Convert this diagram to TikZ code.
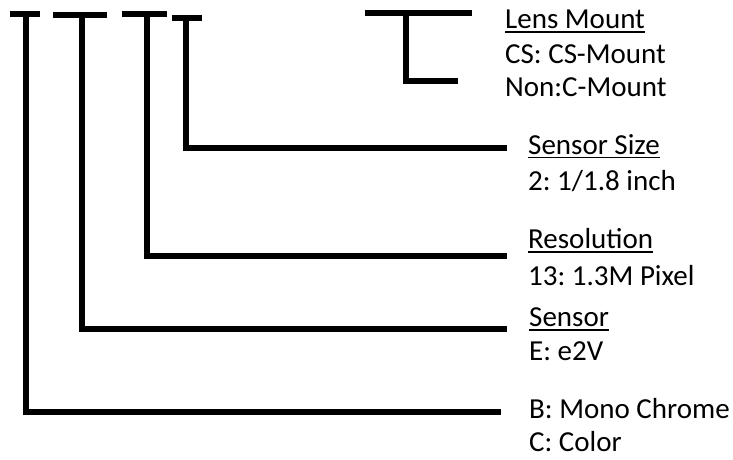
\documentclass[tikz,border=0pt]{standalone}
\usepackage{fontspec}
\setmainfont{Carlito}
\frenchspacing
\newcommand{\ulin}[1]{\setbox0\hbox{#1}\rlap{\rule[-4.3pt]{\wd0}{1.8pt}}\box0}
\begin{document}
\begin{tikzpicture}[x=1pt,y=-1pt,
  bar/.style={line width=6pt, line join=miter, line cap=butt},
  lbl/.style={anchor=base west, inner sep=0pt, font=\fontsize{29}{34}\selectfont}]
\useasboundingbox (0,0) rectangle (733,459);
% labels
\node[lbl] (lensT) at (505,28.3) {\ulin{Lens Mount}};
\node[lbl] (lens1) at (505,63.3) {CS: CS-Mount};
\node[lbl] (lens2) at (505,96.7) {Non:C-Mount};
\node[lbl] (sizeT) at (528,154) {\ulin{Sensor Size}};
\node[lbl] (size1) at (528,190.7) {2: 1/1.8 inch};
\node[lbl] (resT) at (528,248.3) {\ulin{Resolution}};
\node[lbl] (res1) at (528,285.7) {13: 1.3M Pixel};
\node[lbl] (senT) at (529,326.7) {\ulin{Sensor}};
\node[lbl] (sen1) at (529,360) {E: e2V};
\node[lbl] (col1) at (529,418.3) {B: Mono Chrome};
\node[lbl] (col2) at (529,451.7) {C: Color};
% coordinates
\coordinate (t1l) at (10,14.2);  \coordinate (t1r) at (40,14.2);
\coordinate (t1v) at (25.7,14.2); \coordinate (t1e) at (500.7,412);
\coordinate (t2l) at (53,14.5);  \coordinate (t2r) at (107,14.5);
\coordinate (t2v) at (81.5,14.5); \coordinate (t2e) at (506.7,329);
\coordinate (t3l) at (122,13.7); \coordinate (t3r) at (167,13.7);
\coordinate (t3v) at (147,13.7); \coordinate (t3e) at (507,256.3);
\coordinate (t4l) at (172,17.5); \coordinate (t4r) at (202,17.5);
\coordinate (t4v) at (186.3,17.5); \coordinate (t4e) at (506.7,148);
\coordinate (t5l) at (365,13);   \coordinate (t5r) at (472,13);
\coordinate (t5v) at (406,13);   \coordinate (t5e) at (458,80.5);
% bars
\draw[bar] (t1l) -- (t1r); \draw[bar] (t1v) |- (t1e);
\draw[bar] (t2l) -- (t2r); \draw[bar] (t2v) |- (t2e);
\draw[bar] (t3l) -- (t3r); \draw[bar] (t3v) |- (t3e);
\draw[bar] (t4l) -- (t4r); \draw[bar] (t4v) |- (t4e);
\draw[bar] (t5l) -- (t5r); \draw[bar] (t5v) |- (t5e);
\end{tikzpicture}
\end{document}
